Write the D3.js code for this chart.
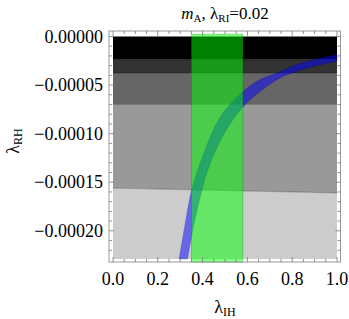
<!DOCTYPE html>
<html><head><meta charset="utf-8">
<script src="https://cdn.jsdelivr.net/npm/d3@7"></script>
</head><body style="margin:0"><svg id="c" width="349" height="319"></svg>
<script>
// ---- data ----
const xTicks = [0.0, 0.2, 0.4, 0.6, 0.8, 1.0];
const xTickLabels = ["0.0", "0.2", "0.4", "0.6", "0.8", "1.0"];
const yTicks = [0, -0.00005, -0.0001, -0.00015, -0.0002];
const yTickLabels = ["0.00000", "\u22120.00005", "\u22120.00010", "\u22120.00015", "\u22120.00020"];
const bandColors = ["#000000", "#333333", "#666666", "#999999", "#cccccc"];
const boundaryAtX0 = [0, -0.000024, -0.0000376, -0.00007, -0.000156, -0.000229];
const boundaryAtX1 = [0, -0.000024, -0.0000376, -0.00007, -0.000161, -0.000229];
const greenX = [0.35, 0.58];
const greenY = [0.0000025, -0.0002325];
const blueLeftEdge = [[0.295,-0.000229],[0.325,-0.000189],[0.353,-0.000156],[0.41,-0.000117],[0.47,-0.000086],[0.53,-0.000068],[0.579,-0.000057],[0.65,-0.000045],[0.746,-0.0000363],[0.8,-0.0000305],[0.9,-0.0000238],[1.0,-0.0000185]];
const blueRightEdge = [[0.333,-0.000229],[0.36,-0.000195],[0.39,-0.000165],[0.42,-0.00014],[0.463,-0.000115],[0.52,-0.000091],[0.579,-0.000073],[0.65,-0.000058],[0.746,-0.0000428],[0.8,-0.0000375],[0.9,-0.0000305],[1.0,-0.0000255]];

// ---- layout ----
const F = "Liberation Serif";
const svg = d3.select("#c");
const x = d3.scaleLinear().domain([0, 1]).range([113, 337]);
const y = d3.scaleLinear().domain([0, -0.000229]).range([36.5, 259]);
const frame = {l: 109, r: 340.5, t: 31, b: 262};

for (let i = 0; i < bandColors.length; i++) {
  const pts = [[0, boundaryAtX0[i]], [1, boundaryAtX1[i]], [1, boundaryAtX1[i+1]], [0, boundaryAtX0[i+1]]];
  svg.append("path").attr("d", "M" + pts.map(p => [x(p[0]), y(p[1])].join(",")).join("L") + "Z")
    .attr("fill", bandColors[i]);
}
for (let i = 1; i < boundaryAtX0.length - 1; i++) {
  svg.append("line").attr("x1", x(0)).attr("x2", x(1)).attr("y1", y(boundaryAtX0[i])).attr("y2", y(boundaryAtX1[i]))
    .attr("stroke", "rgba(0,0,0,0.35)").attr("stroke-width", 0.8);
}

const ln = d3.line().x(d => x(d[0])).y(d => y(d[1])).curve(d3.curveCatmullRom);
const blueD = ln(blueLeftEdge) + "L" + ln(blueRightEdge.slice().reverse()).slice(1) + "Z";
svg.append("path").attr("d", blueD).attr("fill", "rgba(0,0,255,0.5)").attr("stroke", "rgba(0,0,120,0.3)").attr("stroke-width", 0.6);

svg.append("rect").attr("x", x(greenX[0])).attr("width", x(greenX[1]) - x(greenX[0]))
  .attr("y", y(greenY[0])).attr("height", y(greenY[1]) - y(greenY[0]))
  .attr("fill", "rgba(0,255,0,0.5)").attr("stroke", "rgba(0,90,0,0.35)").attr("stroke-width", 0.6);

svg.append("rect").attr("x", frame.l).attr("y", frame.t).attr("width", frame.r - frame.l).attr("height", frame.b - frame.t)
  .attr("fill", "none").attr("stroke", "#999").attr("stroke-width", 1);

const tc = "#777";
d3.range(0, 21).map(i => i * 0.05).forEach(v => {
  const major = xTicks.some(t => Math.abs(t - v) < 1e-9);
  const L = major ? 5 : 3;
  svg.append("line").attr("x1", x(v)).attr("x2", x(v)).attr("y1", frame.b).attr("y2", frame.b - L).attr("stroke", tc).attr("stroke-width", 0.8);
  svg.append("line").attr("x1", x(v)).attr("x2", x(v)).attr("y1", frame.t).attr("y2", frame.t + L).attr("stroke", tc).attr("stroke-width", 0.8);
});
d3.range(0, 23).map(i => -i * 0.00001).forEach(v => {
  const major = yTicks.some(t => Math.abs(t - v) < 1e-12);
  const L = major ? 5 : 3;
  svg.append("line").attr("y1", y(v)).attr("y2", y(v)).attr("x1", frame.l).attr("x2", frame.l + L).attr("stroke", tc).attr("stroke-width", 0.8);
  svg.append("line").attr("y1", y(v)).attr("y2", y(v)).attr("x1", frame.r).attr("x2", frame.r - L).attr("stroke", tc).attr("stroke-width", 0.8);
});

xTicks.forEach((v, i) => {
  svg.append("text").style("font-family", F).attr("font-size", 18).attr("x", x(v)).attr("y", 285).attr("text-anchor", "middle").text(xTickLabels[i]);
});
yTicks.forEach((v, i) => {
  svg.append("text").style("font-family", F).attr("font-size", 18).attr("x", 103).attr("y", y(v) + 6).attr("text-anchor", "end").text(yTickLabels[i]);
});

const t = svg.append("text").style("font-family", F).attr("font-size", 17).attr("x", 225).attr("y", 18.5).attr("text-anchor", "middle");
t.append("tspan").style("font-style", "italic").text("m");
t.append("tspan").attr("font-size", 11).attr("dy", 3).text("A");
t.append("tspan").attr("dy", -3).text(", \u03bb");
t.append("tspan").attr("font-size", 11).attr("dy", 3).text("RI");
t.append("tspan").attr("dy", -3).text("=0.02");

const xl = svg.append("text").style("font-family", F).attr("font-size", 18).attr("x", 225).attr("y", 313).attr("text-anchor", "middle");
xl.append("tspan").text("\u03bb");
xl.append("tspan").attr("font-size", 12).attr("dy", 3).text("IH");

const yl = svg.append("text").style("font-family", F).attr("font-size", 18).attr("transform", "translate(19,141) rotate(-90)").attr("text-anchor", "middle");
yl.append("tspan").text("\u03bb");
yl.append("tspan").attr("font-size", 12).attr("dy", 3).text("RH");
</script></body></html>
